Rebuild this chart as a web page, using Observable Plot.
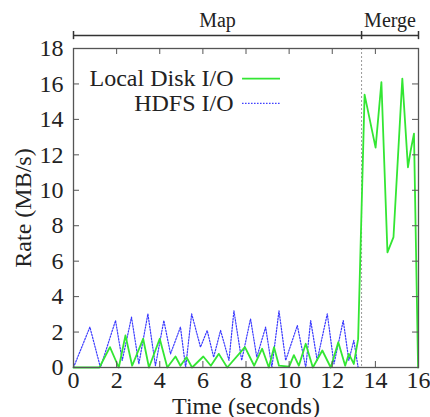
<!DOCTYPE html>
<html>
<head>
<meta charset="utf-8">
<script src="https://cdn.jsdelivr.net/npm/d3@7"></script>
<script src="https://cdn.jsdelivr.net/npm/@observablehq/plot@0.6"></script>
<style>
  html, body { margin: 0; padding: 0; background: white; }
  #chart svg, #chart svg text { font-family: "Liberation Serif", "Times New Roman", serif !important; }
</style>
</head>
<body>
<div id="chart"></div>
<script>
// Data
const hdfsT = [0, 0.76, 1.25, 1.95, 2.26, 2.69, 3.03, 3.45, 3.8, 4.19, 4.5, 4.96, 5.2, 5.48, 5.89, 6.2, 6.5, 6.82, 7.21, 7.44, 7.8, 8.21, 8.5, 8.91, 9.2, 9.53, 9.84, 10.38, 10.77, 11.0, 11.3, 11.77, 12.08, 12.51, 12.77, 13.0, 13.2];
const hdfsV = [0, 2.28, 0, 2.65, 0.4, 2.84, 0.2, 3.03, 0.1, 2.65, 0.77, 2.28, 0, 3.03, 1.15, 2.09, 0.58, 2.09, 0.4, 3.2, 0.4, 2.75, 0.58, 2.28, 0, 3.2, 0.4, 2.37, 0, 2.65, 0.4, 3.03, 0.2, 2.65, 0.4, 1.53, 0];
const localT = [0, 1.2, 1.69, 2.1, 2.41, 2.72, 3.23, 3.5, 4.0, 4.35, 4.73, 4.96, 5.24, 5.5, 6.02, 6.37, 6.74, 7.13, 7.95, 8.38, 8.75, 9.06, 9.3, 9.53, 10.0, 10.22, 10.45, 10.77, 11.1, 11.54, 11.93, 12.28, 12.6, 12.77, 13.0, 13.2, 13.5, 14.01, 14.28, 14.56, 14.84, 15.25, 15.51, 15.64, 15.79, 15.98];
const localV = [0, 0, 1.15, 0, 1.81, 0.1, 1.62, 0, 1.62, 0, 0.62, 0.1, 0.58, 0, 0.62, 0.1, 0.77, 0, 1.15, 0.1, 1.06, 0, 1.15, 0.1, 0.05, 0.7, 0.1, 1.34, 0, 0.96, 0, 1.43, 0.1, 0.77, 0.2, 1.6, 15.4, 12.41, 16.1, 6.5, 7.36, 16.3, 11.3, 12.26, 13.2, 0];
const seriesNames = ["Local Disk I/O", "HDFS I/O"];
const phaseNames = ["Map", "Merge"];
const phaseEdges = [0, 13.36, 16];
const xTicks = [0, 2, 4, 6, 8, 10, 12, 14, 16];
const yTicks = [0, 2, 4, 6, 8, 10, 12, 14, 16, 18];

const green = "#33e633";
const blue = "#3a3aff";
const gray = "#555";

const hdfs = hdfsT.map((t, i) => ({t, v: hdfsV[i]}));
const local = localT.map((t, i) => ({t, v: localV[i]}));

const W = 430, H = 417, mL = 73, mR = 12, mT = 48, mB = 50;
const fw = W - mL - mR, fh = H - mT - mB;
const tl = 6;

const chart = Plot.plot({
  width: W, height: H,
  marginLeft: mL, marginRight: mR, marginTop: mT, marginBottom: mB,
  x: {domain: [0, 16]},
  y: {domain: [0, 18]},
  style: {fontSize: "24px", background: "white", color: "#222"},
  marks: [
    // data lines
    Plot.line(hdfs, {x: "t", y: "v", stroke: blue, strokeWidth: 1.2, strokeDasharray: "1.5,1.5"}),
    Plot.ruleX([phaseEdges[1]], {stroke: "#999", strokeDasharray: "2,2", strokeWidth: 1}),
    Plot.line(local, {x: "t", y: "v", stroke: green, strokeWidth: 1.8}),
    // frame and inward ticks
    Plot.frame({stroke: gray, strokeWidth: 1.3}),
    Plot.tickX(xTicks, {x: d => d, insetTop: fh - tl, stroke: gray}),
    Plot.tickX(xTicks, {x: d => d, insetBottom: fh - tl, stroke: gray}),
    Plot.tickY(yTicks, {y: d => d, insetRight: fw - tl, stroke: gray}),
    Plot.tickY(yTicks, {y: d => d, insetLeft: fw - tl, stroke: gray}),
    // axes
    Plot.axisX(xTicks, {tickSize: 0, tickPadding: 3, label: "Time (seconds)", labelAnchor: "center", labelArrow: "none", labelOffset: 46, fill: "#222"}),
    Plot.axisY(yTicks, {tickSize: 0, tickPadding: 10, label: "Rate (MB/s)", labelAnchor: "center", labelArrow: "none", labelOffset: 60, fill: "#222"}),
    // phase bracket
    Plot.ruleY([18], {x1: phaseEdges[0], x2: phaseEdges[2], dy: -13, stroke: "#333", strokeWidth: 1.5}),
    Plot.ruleX(phaseEdges, {x: d => d, y1: 18.5, y2: 18.96, stroke: "#333", strokeWidth: 1.5}),
    Plot.text(phaseNames, {x: (d, i) => (phaseEdges[i] + phaseEdges[i + 1]) / 2, y: 18, dy: -28, text: d => d, fontSize: 20, fill: "#222"}),
    // legend
    Plot.text(seriesNames, {x: 7.42, y: (d, i) => [16.3, 14.9][i], text: d => d, textAnchor: "end", fontSize: 24, fill: "#222"}),
    Plot.ruleY([16.3], {x1: 7.84, x2: 9.6, stroke: green, strokeWidth: 1.8}),
    Plot.ruleY([14.9], {x1: 7.84, x2: 9.6, stroke: blue, strokeWidth: 1.2, strokeDasharray: "1.5,1.5"})
  ]
});
document.getElementById("chart").appendChild(chart);
</script>
</body>
</html>
